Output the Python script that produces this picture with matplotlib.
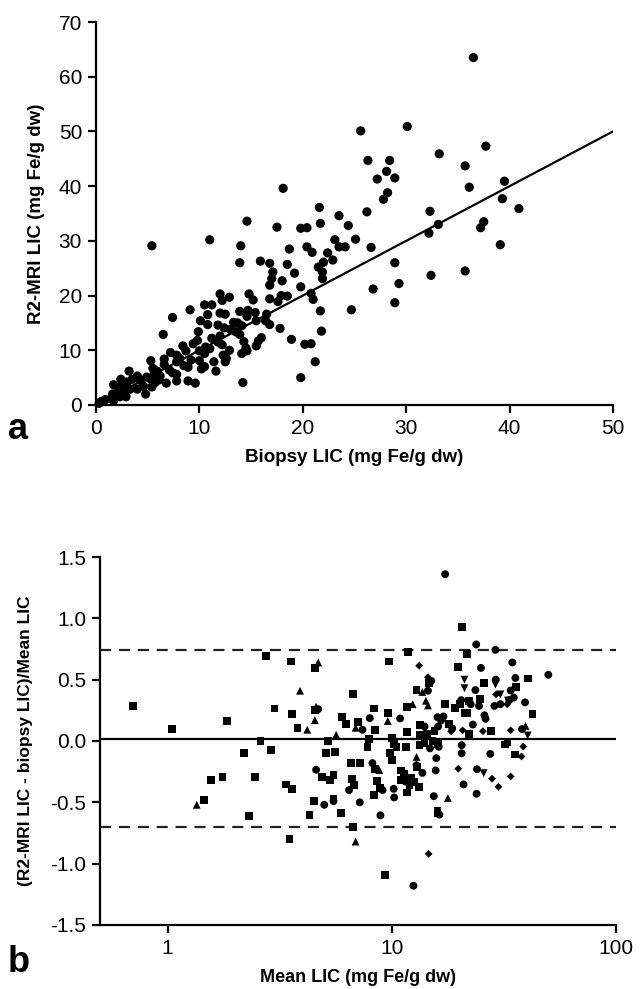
import matplotlib
matplotlib.use("Agg")
import matplotlib.pyplot as plt
import numpy as np

# ---------------- Panel a data ----------------
biopsy = [36.5, 25.6, 30.1, 37.7, 33.2, 26.3, 28.4, 35.7, 28.1, 27.2, 28.9, 39.5, 28.2, 18.1, 36.1,
          27.8, 39.3, 40.9, 21.6, 26.2, 32.3, 23.5, 14.6, 37.5, 21.7, 33.1, 17.5, 19.8, 20.4, 24.4,
          37.2, 32.2, 5.4, 11.0, 14.0, 23.1, 25.1, 39.1, 20.4, 23.5, 24.1, 26.6, 18.7, 20.9, 22.4,
          22.9, 15.9, 16.8, 13.9, 18.5, 28.9, 22.0, 21.5, 21.9, 35.7, 32.4, 17.1, 19.2, 17.0, 21.9,
          18.0, 16.8, 29.3, 19.8, 26.8, 17.9, 18.5, 20.8, 14.8, 12.0, 16.8, 21.0, 12.9, 15.2, 12.2,
          17.6, 10.5, 11.2, 28.9, 24.7, 9.1, 21.7, 13.9, 14.7, 15.4, 12.0, 12.5, 10.8, 7.4, 16.5,
          14.6, 16.4, 15.5, 10.1, 13.3, 13.7, 11.8, 16.8, 10.8, 14.1, 12.4, 17.8, 9.9, 13.5, 21.8,
          13.9, 6.5, 16.0, 11.2, 15.7, 18.9, 9.8, 11.8, 12.2, 14.3, 10.6, 15.5, 20.2, 20.8, 8.4,
          14.5, 11.0, 10.0, 12.9, 14.6, 7.2, 8.7, 10.5, 14.1, 12.3, 7.8, 8.1, 6.6, 5.3, 12.6,
          21.2, 12.5, 7.8, 9.2, 11.4, 10.0, 6.6, 8.5, 8.9, 10.5, 10.2, 11.6, 5.5, 7.1, 5.9,
          7.4, 7.8, 3.2, 5.6, 6.2, 4.0, 5.3, 6.1, 2.4, 3.5, 7.8, 8.9, 5.7, 6.8, 4.3,
          9.6, 14.2, 1.7, 2.9, 4.6, 5.4, 2.4, 4.0, 3.3, 2.7, 19.8, 4.8, 1.6, 2.1, 2.9,
          2.3, 1.5, 1.7, 0.9, 0.4, 0.3, 0.6, 13.0, 12.0, 9.4, 4.9, 3.0]
r2mri = [63.5, 50.1, 50.9, 47.3, 45.9, 44.7, 44.7, 43.7, 42.7, 41.3, 41.5, 40.9, 38.8, 39.6, 39.8,
         37.6, 37.7, 35.9, 36.1, 35.3, 35.4, 34.6, 33.6, 33.5, 33.2, 33.0, 32.5, 32.3, 32.4, 32.8,
         32.4, 31.4, 29.1, 30.2, 29.1, 30.2, 30.3, 29.3, 28.9, 28.9, 28.9, 28.8, 28.5, 27.9, 27.8,
         26.5, 26.3, 25.9, 26.0, 25.7, 26.0, 26.1, 25.2, 24.3, 24.5, 23.7, 24.3, 24.1, 23.1, 23.1,
         22.7, 21.9, 22.2, 21.6, 21.2, 20.0, 19.9, 20.4, 20.3, 20.3, 19.4, 19.3, 19.7, 19.2, 19.1,
         18.9, 18.3, 18.3, 18.7, 17.4, 17.4, 17.2, 17.1, 17.3, 16.9, 16.8, 16.6, 16.5, 16.0, 16.6,
         16.2, 15.4, 15.4, 15.4, 15.1, 15.0, 14.6, 14.7, 14.7, 14.5, 14.1, 14.0, 13.4, 13.4, 13.5,
         12.9, 12.9, 12.3, 12.2, 11.7, 12.0, 11.8, 11.5, 11.0, 11.6, 10.6, 10.8, 11.1, 11.2, 10.8,
         10.4, 10.3, 9.9, 10.0, 9.9, 9.6, 9.9, 9.4, 9.4, 9.1, 9.1, 8.5, 8.4, 8.1, 8.5,
         7.9, 7.9, 7.9, 8.2, 7.9, 8.1, 7.4, 7.2, 6.9, 7.0, 6.6, 6.2, 6.7, 6.4, 6.2,
         5.9, 5.6, 6.2, 5.5, 5.3, 5.3, 4.7, 4.6, 4.7, 4.7, 4.4, 4.4, 4.1, 4.0, 4.5,
         4.0, 4.1, 3.7, 3.9, 3.4, 3.3, 3.4, 2.9, 2.9, 2.7, 5.0, 2.0, 2.0, 2.5, 1.5,
         1.5, 1.1, 0.8, 1.0, 0.5, 0.3, 0.7, 13.8, 12.6, 11.2, 5.1, 4.2]

# ---------------- Panel b data (mean LIC, relative difference) ----------------
sq_mean = [0.70, 1.05, 1.85, 1.45, 1.56, 1.76, 2.2, 2.3, 2.46, 2.6, 2.74, 2.9, 3.0, 3.39, 3.55,
           3.6, 3.6, 3.5, 3.8, 4.3, 4.5, 4.54, 4.55, 4.9, 5.1, 5.2, 5.3, 5.5, 5.5, 5.6,
           5.95, 6.0, 6.27, 6.6, 6.65, 6.7, 6.7, 6.8, 7.1, 7.2, 7.8, 8.3, 7.9, 8.35, 8.4,
           8.4, 8.6, 8.9, 9.3, 9.6, 9.75, 9.85, 10.0, 10.0, 10.2, 10.5, 11.0, 11.3, 11.6, 11.7,
           11.8, 11.7, 11.7, 12.0, 12.6, 12.9, 13.0, 13.4, 13.4, 13.3, 13.25, 14.7, 15.5, 16.0, 16.1,
           17.3, 18.0, 19.1, 19.8, 20.2, 20.6, 21.1, 21.6, 21.7, 22.2, 22.1, 24.7, 25.7, 27.7, 32.1,
           32.8, 35.9, 35.5, 40.5, 42.4, 14.0, 14.3, 15.2, 12.2, 11.0]
sq_diff = [0.286, 0.097, 0.16, -0.48, -0.32, -0.29, -0.10, -0.61, -0.29, 0.0, 0.69, -0.07, 0.265, -0.355, 0.648,
           0.223, -0.39, -0.80, 0.108, -0.606, -0.49, 0.596, 0.25, -0.29, -0.10, 0.0, -0.32, -0.275, -0.47, -0.087,
           -0.59, 0.197, 0.14, -0.176, -0.31, 0.386, -0.70, -0.36, 0.157, -0.18, -0.05, 0.265, 0.018, -0.44, 0.092,
           -0.23, -0.325, -0.38, -1.095, 0.228, 0.648, -0.095, -0.152, 0.024, -0.026, -0.047, -0.315, -0.27, -0.047, -0.42,
           0.727, 0.28, 0.073, -0.36, -0.336, 0.417, -0.215, 0.13, 0.052, -0.031, -0.373, 0.47, 0.081, -0.59, -0.026,
           0.304, 0.142, 0.268, 0.604, 0.30, 0.927, 0.228, 0.706, 0.228, 0.323, 0.058, 0.341, 0.475, 0.079, -0.029,
           -0.005, 0.438, -0.11, 0.51, 0.22, -0.02, 0.06, 0.0, -0.30, -0.24]

ci_mean = [4.7, 4.6, 5.0, 5.5, 6.45, 7.2, 7.4, 7.98, 8.2, 8.9, 9.1, 10.25, 10.2, 10.9, 12.5,
           12.9, 13.7, 14.0, 14.5, 15.0, 15.4, 15.7, 15.8, 16.3, 16.0, 16.1, 16.2, 16.6, 17.3, 18.6,
           20.4, 20.5, 20.5, 20.9, 23.0, 23.6, 23.8, 23.9, 24.0, 24.5, 25.0, 25.9, 26.2, 27.5, 28.7,
           29.0, 29.1, 33.4, 33.9, 34.5, 35.0, 35.6, 38.1, 39.3, 49.9, 11.5, 14.8, 17.0, 22.5, 30.5]
ci_diff = [0.26, -0.234, -0.52, -0.49, -0.40, -0.50, 0.092, 0.186, -0.18, -0.606, -0.40, -0.46, -0.39, 0.184, -1.18,
           -0.197, -0.26, 0.118, 0.41, 0.49, -0.45, -0.24, -0.14, -0.60, 0.194, 0.118, -0.047, 0.168, 1.36, 0.102,
           0.333, -0.10, -0.034, -0.354, 0.134, 0.415, 0.787, -0.43, -0.23, 0.286, 0.596, 0.21, 0.181, -0.105, 0.286,
           0.743, 0.50, 0.333, 0.412, 0.64, 0.354, 0.514, 0.097, 0.315, 0.54, -0.33, -0.06, 0.20, 0.30, 0.30]

tu_mean = [1.35, 3.9, 4.2, 4.54, 4.6, 4.7, 5.65, 6.9, 6.9, 8.8, 9.6, 12.4, 12.9, 13.7, 14.2,
           14.5, 17.8, 39.5]
tu_diff = [-0.52, 0.41, 0.092, 0.17, 0.28, 0.64, 0.05, -0.82, 0.108, -0.236, 0.163, 0.30, -0.13, 0.40, 0.328,
           0.29, -0.465, 0.123]

td_mean = [21.1, 21.1, 25.7, 29.0, 30.5, 40.4, 16.0, 33.0]
td_diff = [0.50, 0.43, -0.262, 0.46, 0.38, 0.045, -0.57, 0.33]

di_mean = [13.25, 14.5, 14.6, 18.4, 19.8, 20.7, 28.0, 29.2, 29.9, 32.7, 33.9, 33.9, 37.9, 38.6, 25.5]
di_diff = [0.614, 0.52, -0.92, 0.079, -0.226, 0.087, -0.307, 0.38, -0.373, 0.30, -0.289, 0.087, -0.126, -0.045, 0.08]

mean_bias = 0.02
upper_loa = 0.74
lower_loa = -0.70

# ---------------- Figure ----------------
W, H = 642, 989
fig = plt.figure(figsize=(W / 100, H / 100), dpi=100)
tick_font = ['Liberation Sans Narrow', 'Liberation Sans', 'DejaVu Sans']
lab_font = ['Liberation Sans', 'DejaVu Sans']

def style(ax):
    for s in ['top', 'right']:
        ax.spines[s].set_visible(False)
    for s in ['left', 'bottom']:
        ax.spines[s].set_linewidth(1.6)
    ax.tick_params(direction='out', length=6, width=1.6, labelsize=15, pad=4)
    for lab in ax.get_xticklabels() + ax.get_yticklabels():
        lab.set_family(tick_font)

# Panel a
ax1 = fig.add_axes([96 / W, 1 - 405 / H, (613 - 96) / W, (405 - 22) / H])
ax1.scatter(biopsy, r2mri, s=44, color='black', edgecolors='none', clip_on=False, zorder=3)
ax1.plot([0, 50], [0, 50], color='black', lw=1.6, zorder=2)
ax1.set_xlim(0, 50)
ax1.set_ylim(0, 70)
ax1.set_xticks(np.arange(0, 51, 10))
ax1.set_yticks(np.arange(0, 71, 10))
style(ax1)
ax1.set_xlabel('Biopsy LIC (mg Fe/g dw)', fontsize=13.5, fontweight='bold', family=lab_font, labelpad=8)
ax1.set_ylabel('R2-MRI LIC (mg Fe/g dw)', fontsize=13.5, fontweight='bold', family=lab_font, labelpad=10)
fig.text(8 / W, 1 - 430 / H, 'a', fontsize=26, fontweight='bold', family=lab_font, va='center', ha='left')

# Panel b
ax2 = fig.add_axes([100 / W, 1 - 925 / H, (616 - 100) / W, (925 - 557) / H])
ax2.set_xscale('log')
ms = 32
ax2.scatter(sq_mean, sq_diff, marker='s', s=ms, color='black', edgecolors='none', zorder=3)
ax2.scatter(ci_mean, ci_diff, marker='o', s=ms, color='black', edgecolors='none', zorder=3)
ax2.scatter(tu_mean, tu_diff, marker='^', s=ms, color='black', edgecolors='none', zorder=3)
ax2.scatter(td_mean, td_diff, marker='v', s=ms, color='black', edgecolors='none', zorder=3)
ax2.scatter(di_mean, di_diff, marker='D', s=16, color='black', edgecolors='none', zorder=3)
ax2.axhline(mean_bias, color='black', lw=1.6, zorder=2)
ax2.axhline(upper_loa, color='#222222', lw=1.6, ls=(0, (5, 3.5)), zorder=2)
ax2.axhline(lower_loa, color='#222222', lw=1.6, ls=(0, (5, 3.5)), zorder=2)
ax2.set_xlim(0.5, 100)
ax2.set_ylim(-1.5, 1.5)
ax2.set_xticks([1, 10, 100])
ax2.set_xticklabels(['1', '10', '100'])
ax2.xaxis.set_minor_locator(matplotlib.ticker.NullLocator())
yt = [-1.5, -1.0, -0.5, 0.0, 0.5, 1.0, 1.5]
ax2.set_yticks(yt)
ax2.set_yticklabels(['%.1f' % v for v in yt])
style(ax2)
ax2.set_xlabel('Mean LIC (mg Fe/g dw)', fontsize=13, fontweight='bold', family=lab_font, labelpad=8)
ax2.set_ylabel('(R2-MRI LIC - biopsy LIC)/Mean LIC', fontsize=12.5, fontweight='bold', family=lab_font, labelpad=12)
fig.text(8 / W, 1 - 963 / H, 'b', fontsize=26, fontweight='bold', family=lab_font, va='center', ha='left')

fig.savefig('out.png', dpi=100)
